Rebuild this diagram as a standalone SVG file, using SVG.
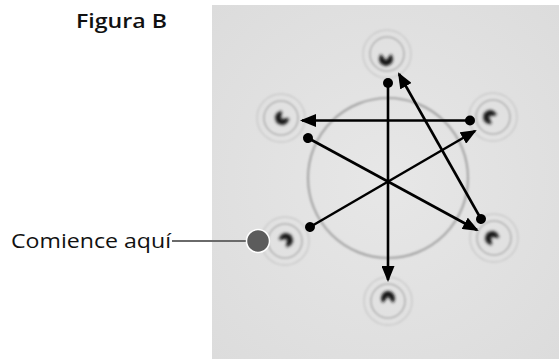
<svg xmlns="http://www.w3.org/2000/svg" width="559" height="359" viewBox="0 0 559 359">
<style>
.lbl{font-family:"Open Sans","Noto Sans","Liberation Sans",sans-serif;fill:#111}
.ring-o{fill:none;stroke:#cbcbcb;stroke-width:1.5}
.ring-i{fill:none;stroke:#b3b3b3;stroke-width:1.6}
.blob{fill:#151515}
.conn{stroke:#000;stroke-width:2.6;fill:none;marker-start:url(#dot);marker-end:url(#arr)}
</style>
<defs>
<radialGradient id="bg" cx="50%" cy="50%" r="70%">
<stop offset="0" stop-color="#e7e7e7"/>
<stop offset="1" stop-color="#dcdcdc"/>
</radialGradient>
<filter id="soft" x="-50%" y="-50%" width="200%" height="200%"><feGaussianBlur stdDeviation="0.8"/></filter>
<filter id="blur" x="-50%" y="-50%" width="200%" height="200%"><feGaussianBlur stdDeviation="1.5"/></filter>
<marker id="arr" markerUnits="userSpaceOnUse" markerWidth="16" markerHeight="13" refX="14" refY="6.5" orient="auto">
<path d="M0,0 L16,6.5 L0,13 z" fill="#000"/>
</marker>
<marker id="dot" markerUnits="userSpaceOnUse" markerWidth="12" markerHeight="12" refX="6" refY="6" orient="auto">
<circle cx="6" cy="6" r="5" fill="#000"/>
</marker>
<g id="well">
<circle class="ring-o" r="24" filter="url(#soft)"/>
<circle class="ring-i" r="17" filter="url(#soft)"/>
</g>
<path id="pac" d="M0,1.5 L5,-5 A7,7 0 1 1 -5,-5 Z"/>
</defs>
<rect x="212" y="5" width="347" height="354" fill="url(#bg)"/>
<circle id="bigcircle" cx="388" cy="178" r="80" fill="none" stroke="#a6a6a6" stroke-width="2.2" filter="url(#soft)"/>
<g id="well-top"><use href="#well" x="387" y="54"/><use href="#pac" class="blob" filter="url(#blur)" transform="translate(386,59)"/></g>
<g id="well-left-upper"><use href="#well" x="281" y="118"/><use href="#pac" class="blob" filter="url(#blur)" transform="translate(282,118) rotate(45)"/></g>
<g id="well-right-upper"><use href="#well" x="493" y="117"/><use href="#pac" class="blob" filter="url(#blur)" transform="translate(490,117) rotate(120)"/></g>
<g id="well-left-lower"><use href="#well" x="285" y="241"/><use href="#pac" class="blob" filter="url(#blur)" transform="translate(286,240) rotate(225)"/></g>
<g id="well-right-lower"><use href="#well" x="494" y="238"/><use href="#pac" class="blob" filter="url(#blur)" transform="translate(492,238) rotate(135)"/></g>
<g id="well-bottom"><use href="#well" x="388" y="301"/><use href="#pac" class="blob" filter="url(#blur)" transform="translate(388,298) rotate(180)"/></g>
<g id="connectors">
<line class="conn" x1="310" y1="227" x2="475" y2="131"/>
<line class="conn" x1="470" y1="120.5" x2="302" y2="120.5"/>
<line class="conn" x1="308" y1="138" x2="477" y2="230"/>
<line class="conn" x1="481" y1="219" x2="399" y2="74"/>
<line class="conn" x1="388" y1="83" x2="388" y2="280"/>
</g>
<g id="title"><text class="lbl" x="76" y="28" font-size="20" font-weight="600" textLength="91" lengthAdjust="spacingAndGlyphs">Figura B</text></g>
<g id="start">
<line x1="172" y1="241" x2="250" y2="241" stroke="#6a6a6a" stroke-width="2"/>
<circle cx="258" cy="241" r="11.5" fill="#5c5c5c" stroke="#fff" stroke-width="1.5"/>
<text class="lbl" x="11" y="248" font-size="20" textLength="160" lengthAdjust="spacingAndGlyphs">Comience aquí</text>
</g>
</svg>
